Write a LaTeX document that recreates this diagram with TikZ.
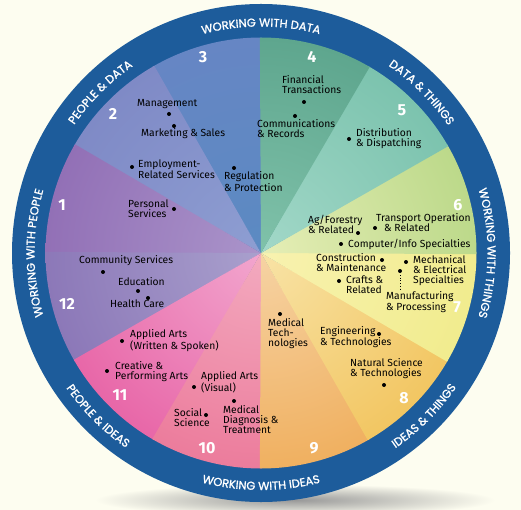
\documentclass[tikz,border=0pt]{standalone}
\usepackage{fontspec}
\setmainfont{Fira Sans}
\newfontfamily\ringfont{Poppins}[FakeBold=1.2]
\usetikzlibrary{decorations.text}
\definecolor{bg}{HTML}{FDFDF0}
\definecolor{ringblue}{HTML}{1D5C9B}
\definecolor{s3i}{HTML}{5B8AC2}\definecolor{s3o}{HTML}{6686C4}
\definecolor{s2i}{HTML}{8E9ED2}\definecolor{s2o}{HTML}{7F8AC6}
\definecolor{s1i}{HTML}{AA94CA}\definecolor{s1o}{HTML}{9270B6}
\definecolor{s12i}{HTML}{A9A0CD}\definecolor{s12o}{HTML}{8C78B8}
\definecolor{s11i}{HTML}{F2A6CE}\definecolor{s11o}{HTML}{E867A8}
\definecolor{s10i}{HTML}{F3AABF}\definecolor{s10o}{HTML}{EC7C9C}
\definecolor{s9i}{HTML}{F6D3A4}\definecolor{s9o}{HTML}{F0B060}
\definecolor{s8i}{HTML}{F8E3A6}\definecolor{s8o}{HTML}{F2C662}
\definecolor{s7i}{HTML}{F8F2B0}\definecolor{s7o}{HTML}{F1EC8E}
\definecolor{s6i}{HTML}{E6EEB6}\definecolor{s6o}{HTML}{BCD98A}
\definecolor{s5i}{HTML}{A2D8C8}\definecolor{s5o}{HTML}{7CC3AE}
\definecolor{s4i}{HTML}{80C2AA}\definecolor{s4o}{HTML}{5EA68E}
\begin{document}
\begin{tikzpicture}[x=1pt,y=1pt,
  lab/.style={anchor=west, inner sep=0pt, align=left, text=black, font=\fontsize{10.3}{10}\selectfont},
  num/.style={text=white, inner sep=0pt, font=\fontsize{16}{16}\selectfont\bfseries},
  ringtext/.style={decorate, decoration={text along path, text align=center, text color=white, text={|\ringfont\fontsize{11.5}{11.5}\selectfont|#1}}}]
\useasboundingbox (0,0) rectangle (521,-510);
\fill[bg] (0,0) rectangle (521,-510);
\coordinate (C) at (261,-253);
% shadow
\shade[inner color=black!40, outer color=bg] (295,-500) ellipse (200 and 16);
% ring
\fill[ringblue] (C) circle (249);
% sectors
\foreach \a/\n in {90/3,120/2,150/1,180/12,210/11,240/10,270/9,300/8,330/7,0/6,30/5,60/4}{
  \begin{scope}
    \clip (C) -- ++(\a-0.3:215.5) arc[start angle=\a-0.3, end angle=\a+30.3, radius=215.5] -- cycle;
    \shade[inner color=s\n i, outer color=s\n o] (C) circle (215.5);
  \end{scope}
}
% ring texts (clockwise, top)
\path[ringtext={WORKING WITH DATA}] ([shift={(130:226.5)}]C) arc[start angle=130, end angle=50, radius=226.5];
\path[ringtext={DATA {\&} THINGS}] ([shift={(85:226.5)}]C) arc[start angle=85, end angle=5, radius=226.5];
\path[ringtext={WORKING WITH THINGS}] ([shift={(40:226.5)}]C) arc[start angle=40, end angle=-40, radius=226.5];
\path[ringtext={WORKING WITH PEOPLE}] ([shift={(220:226.5)}]C) arc[start angle=220, end angle=140, radius=226.5];
\path[ringtext={PEOPLE {\&} DATA}] ([shift={(175:226.5)}]C) arc[start angle=175, end angle=95, radius=226.5];
% ring texts (counterclockwise, bottom)
\path[ringtext={IDEAS {\&} THINGS}] ([shift={(-85:237)}]C) arc[start angle=-85, end angle=-5, radius=237];
\path[ringtext={WORKING WITH IDEAS}] ([shift={(-130:237)}]C) arc[start angle=-130, end angle=-50, radius=237];
\path[ringtext={PEOPLE {\&} IDEAS}] ([shift={(-175:237)}]C) arc[start angle=-175, end angle=-95, radius=237];
% numbers
\node[num] (n1) at (62,-205) {1};
\node[num] (n2) at (113,-114) {2};
\node[num] (n3) at (203,-57) {3};
\node[num] (n4) at (312,-57) {4};
\node[num] (n5) at (402,-110) {5};
\node[num] (n6) at (458,-205) {6};
\node[num] (n7) at (457,-307) {7};
\node[num] (n8) at (404,-398) {8};
\node[num] (n9) at (314,-448) {9};
\node[num] (n10) at (207,-448) {10};
\node[num] (n11) at (120,-395) {11};
\node[num] (n12) at (67,-304) {12};
% labels
\node[lab] (mgmt) at (137,-104) {Management};
\node[lab] (mkt) at (141,-134) {Marketing \& Sales};
\node[lab] (empl) at (138,-169) {Employment-\\Related Services};
\node[lab] (pers) at (128,-209) {Personal\\Services};
\node[lab] (regu) at (224,-181.5) {Regulation\\\& Protection};
\node[lab] (fin) at (282,-85) {Financial\\Transactions};
\node[lab] (comm) at (257,-129) {Communications\\\& Records};
\node[lab] (dist) at (356,-139) {Distribution\\\& Dispatching};
\node[lab] (agf) at (308,-224) {Ag/Forestry\\\& Related};
\node[lab] (trans) at (376,-223) {Transport Operation\\\hspace*{8pt}\& Related};
\node[lab] (comp) at (348,-244) {Computer/Info Specialties};
\node[lab] (cons) at (316,-263) {Construction\\\& Maintenance};
\node[lab] (mech) at (413,-270.5) {Mechanical\\\& Electrical\\Specialties};
\node[lab] (craft) at (346,-285) {Crafts \&\\Related};
\node[lab] (manuf) at (386,-302) {Manufacturing\\\& Processing};
\node[lab] (medt) at (268,-334) {Medical\\Tech-\\nologies};
\node[lab] (eng) at (320,-337) {Engineering\\\& Technologies};
\node[lab] (nat) at (350,-369) {Natural Science\\\& Technologies};
\node[lab] (cmty) at (79,-261) {Community Services};
\node[lab] (edu) at (118,-282) {Education};
\node[lab] (hlth) at (110,-304) {Health Care};
\node[lab] (aaw) at (130,-341) {Applied Arts\\(Written \& Spoken)};
\node[lab] (crea) at (115,-372) {Creative \&\\Performing Arts};
\node[lab] (aav) at (201,-382) {Applied Arts\\(Visual)};
\node[lab] (soc) at (174,-418) {Social\\Science};
\node[lab] (medd) at (223,-420) {Medical\\Diagnosis \&\\Treatment};
% dots
\foreach \x/\y in {169/114,174/126,132/167,174/209,234/168,304/102,295/116,349/139,358/233,375/228,341/244,382/260,406/262,339/281,280/314,379/334,384/385,103/272,138/291,148/298,122/341,107/371,194/387,206/415,234/401}{
  \fill (\x,-\y) circle (2);
}
\coordinate (mfdot) at (400,-271);
\fill (mfdot) circle (2);
\draw[dotted, line width=0.7pt] ([yshift=-4pt]mfdot) -- (mfdot |- manuf.north);
\end{tikzpicture}
\end{document}
